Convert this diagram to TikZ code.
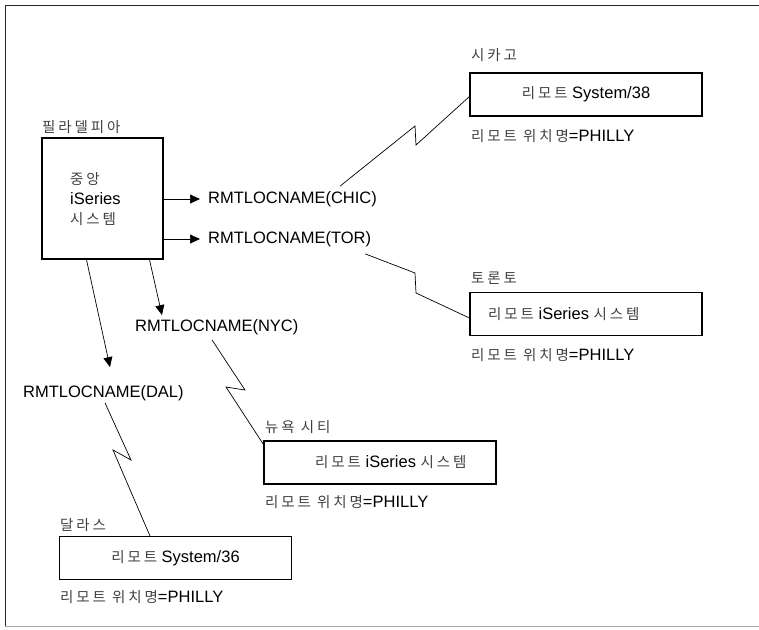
\documentclass[tikz,border=0pt]{standalone}
\usepackage{fontspec}
\setmainfont{Liberation Sans}
\newfontfamily\krfont[LetterSpace=20]{Noto Sans CJK KR}
\usetikzlibrary{arrows.meta,calc}
\newcommand\kr[1]{{\krfont\fontsize{14.5}{20}\selectfont\color{black!75}#1}}
\begin{document}
\begin{tikzpicture}[x=1pt,y=-1pt,
  lbl/.style={inner sep=0pt, anchor=west, font=\fontsize{16.5}{20}\selectfont},
  sysbox/.style={draw, line width=1.1pt, minimum width=232pt, minimum height=43pt, inner sep=0pt, font=\fontsize{16.5}{20}\selectfont},
  conn/.style={line width=0.7pt},
  arr/.style={conn, -{Triangle[length=10pt,width=9pt]}},
]
\useasboundingbox (0,0) rectangle (759,629);
\draw[line width=1pt, black!85] (759,5) -- (5,5) -- (5,626);
\draw[line width=1pt, black!35] (5,626) -- (759,626);

% central system
\node[draw, line width=1.1pt, minimum width=121pt, minimum height=121pt, inner sep=0pt] (phil) at (102.5,198.5) {};
\node[lbl, align=left] (philtxt) at (70,199) {\kr{중앙}\\iSeries\\\kr{시스템}};
\node[lbl] (philname) at (42,127) {\kr{필라델피아}};

% RMTLOCNAME labels
\node[lbl] (chic) at (208,199) {RMTLOCNAME(CHIC)};
\node[lbl] (tor) at (208,239) {RMTLOCNAME(TOR)};
\node[lbl] (nyc) at (135,327) {RMTLOCNAME(NYC)};
\node[lbl] (dal) at (23,393) {RMTLOCNAME(DAL)};

\draw[arr] (phil.east |- chic.west) -- ([xshift=-8pt]chic.west);
\draw[arr] (phil.east |- tor.west) -- ([xshift=-8pt]tor.west);
\draw[arr] ([xshift=108pt]phil.south west) -- ([xshift=27pt,yshift=4pt]nyc.north west);
\draw[arr] ([xshift=45pt]phil.south west) -- ([xshift=87pt,yshift=18pt]dal.north west);

% Chicago
\node[lbl] (chiname) at (471,55) {\kr{시카고}};
\node[sysbox] (chicago) at (586,94.5) {\kr{리모트} System/38};
\node[lbl] (chiloc) at (471,136) {\kr{리모트 위치명}=PHILLY};

% Toronto
\node[lbl] (torname) at (471,278) {\kr{토론토}};
\node[sysbox] (toronto) at (586,314) {};
\node[lbl] (tortxt) at (488,314) {\kr{리모트} iSeries \kr{시스템}};
\node[lbl] (torloc) at (471,355) {\kr{리모트 위치명}=PHILLY};

% New York
\node[lbl] (nycname) at (265,427) {\kr{뉴욕 시티}};
\node[sysbox] (nycbox) at (380,462.5) {};
\node[lbl] (nyctxt) at (315,462.5) {\kr{리모트} iSeries \kr{시스템}};
\node[lbl] (nycloc) at (265,502) {\kr{리모트 위치명}=PHILLY};

% Dallas
\node[lbl] (dalname) at (60,525) {\kr{달라스}};
\node[sysbox] (dalbox) at (175.5,558) {\kr{리모트} System/36};
\node[lbl] (dalloc) at (60,597) {\kr{리모트 위치명}=PHILLY};

% zigzag links
\draw[conn] ($(chic.north east)+(-37,-5)$) -- (415,126) -- (416,145) -- ([yshift=-2pt]chicago.west);
\draw[conn] ($(tor.south east)+(-6,7)$) -- (415,273) -- (416,293) -- ([yshift=-4pt]toronto.west);
\draw[conn] ($(nyc.south west)+(77,5)$) -- (245,390) -- (226,387) -- ([yshift=-4pt]nycbox.north west);
\draw[conn] ($(dal.south west)+(82,2)$) -- (131,460) -- (113,450) -- ([xshift=91pt]dalbox.north west);
\end{tikzpicture}
\end{document}
